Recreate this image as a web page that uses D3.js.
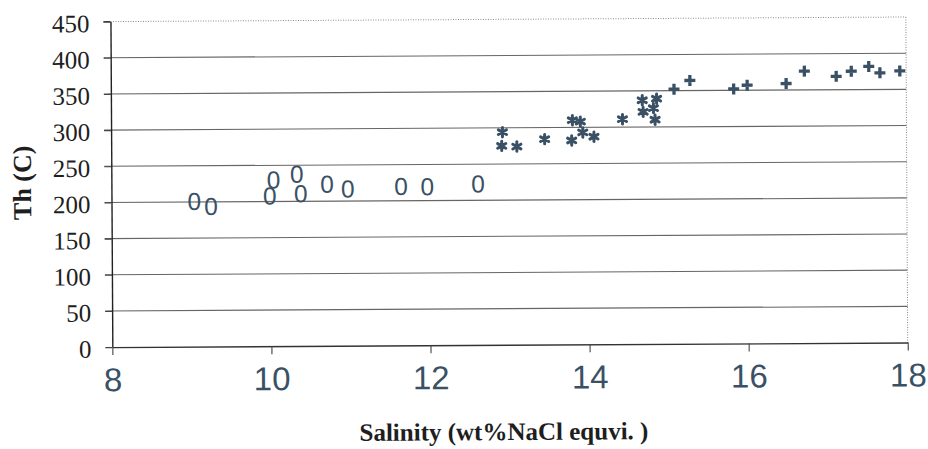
<!DOCTYPE html>
<html>
<head>
<meta charset="utf-8">
<script src="https://cdn.jsdelivr.net/npm/d3@7"></script>
<style>
  html, body { margin: 0; padding: 0; background: #fff; }
  svg { display: block; }
</style>
</head>
<body>
<svg id="chart" width="928" height="449"></svg>
<script>
// ---- data ----
const zeroX = [9.04, 9.25, 9.99, 10.04, 10.33, 10.38, 10.71, 10.97, 11.64, 11.97, 12.61];
const zeroY = [201, 194, 208, 230, 238, 211, 224, 217, 220, 219.5, 223];
const starX = [12.92, 12.91, 13.10, 13.45, 13.79, 13.80, 13.90, 13.93, 14.07, 14.43, 14.68, 14.69, 14.86, 14.82, 14.84];
const starY = [294, 275, 274, 284, 282, 310, 308, 293, 287, 311, 337, 321, 339, 326, 310];
const plusX = [15.08, 15.28, 15.83, 16.00, 16.49, 16.72, 17.12, 17.31, 17.53, 17.67, 17.92];
const plusY = [352, 364, 352, 357, 359, 376, 368.5, 375.5, 382, 373, 375.5];
const xTicks = [8, 10, 12, 14, 16, 18];
const yTicks = [0, 50, 100, 150, 200, 250, 300, 350, 400, 450];
const xTitle = "Salinity (wt%NaCl equvi. )";
const yTitle = "Th (C)";

// ---- layout ----
const markColor = "#3a5165";
const svg = d3.select("#chart");
svg.append("rect").attr("width", 928).attr("height", 449).attr("fill", "#fff");

const x = d3.scaleLinear().domain([8, 18]).range([111.4, 906.8]);
const y = d3.scaleLinear().domain([0, 450]).range([344.8, 19.3]);

// slight scan tilt of the original figure
const g = svg.append("g").attr("transform", "rotate(-0.33,509,184)");

// gridlines (with left tick stubs)
g.append("g").selectAll("line")
  .data(yTicks.filter(d => d > 0 && d < 450))
  .join("line")
  .attr("x1", x(8) - 7).attr("x2", x(18))
  .attr("y1", d => y(d)).attr("y2", d => y(d))
  .attr("stroke", "#666").attr("stroke-width", 1.1);

// top and right dotted borders
g.append("line")
  .attr("x1", x(8)).attr("x2", x(18)).attr("y1", y(450)).attr("y2", y(450))
  .attr("stroke", "#8a8a8a").attr("stroke-width", 1).attr("stroke-dasharray", "1,1.5");
g.append("line")
  .attr("x1", x(18)).attr("x2", x(18)).attr("y1", y(450)).attr("y2", y(0))
  .attr("stroke", "#8a8a8a").attr("stroke-width", 1).attr("stroke-dasharray", "1,1.5");
// tick stub for 450
g.append("line")
  .attr("x1", x(8) - 7).attr("x2", x(8)).attr("y1", y(450)).attr("y2", y(450))
  .attr("stroke", "#444").attr("stroke-width", 1.1);

// y axis (left)
const yAxis = d3.axisLeft(y).tickValues(yTicks).tickSize(7).tickSizeOuter(0).tickFormat(d3.format("d"));
const yg = g.append("g").attr("transform", `translate(${x(8)},0)`).call(yAxis);
yg.select(".domain").attr("stroke", "#222").attr("stroke-width", 1.4);
yg.selectAll(".tick line").attr("stroke", "#444").attr("stroke-width", 1.1);
yg.selectAll(".tick text")
  .attr("x", -21).attr("dy", "0.4em")
  .attr("font-family", "'Liberation Serif', 'Times New Roman', serif")
  .attr("font-size", 25).attr("fill", "#1e1e1e");

// x axis (bottom)
const xAxis = d3.axisBottom(x).tickValues(xTicks).tickSize(8).tickSizeOuter(0).tickFormat(d3.format("d"));
const xg = g.append("g").attr("transform", `translate(0,${y(0)})`).call(xAxis);
xg.select(".domain").attr("stroke", "#333").attr("stroke-width", 1.4);
xg.selectAll(".tick line").attr("stroke", "#444").attr("stroke-width", 1.1);
xg.selectAll(".tick text")
  .attr("y", 44).attr("dy", 0)
  .attr("font-family", "'Liberation Sans', Arial, sans-serif")
  .attr("font-size", 33).attr("fill", markColor);

// axis titles
g.append("text")
  .attr("x", 502.5).attr("y", 440)
  .attr("text-anchor", "middle")
  .attr("font-family", "'Liberation Serif', 'Times New Roman', serif")
  .attr("font-weight", "bold").attr("font-size", 25).attr("fill", "#1e1e1e")
  .text(xTitle);
g.append("text")
  .attr("transform", "translate(31,180) rotate(-90)")
  .attr("text-anchor", "middle")
  .attr("font-family", "'Liberation Serif', 'Times New Roman', serif")
  .attr("font-weight", "bold").attr("font-size", 26).attr("fill", "#1e1e1e")
  .text(yTitle);

// series 1: "0" glyph markers
g.append("g").selectAll("text")
  .data(d3.zip(zeroX, zeroY))
  .join("text")
  .attr("x", d => x(d[0])).attr("y", d => y(d[1]) + 8.8)
  .attr("text-anchor", "middle")
  .attr("font-family", "'Liberation Sans', Arial, sans-serif")
  .attr("font-size", 24.5).attr("fill", markColor)
  .text("0");

// series 2: asterisks
const starPath = (() => {
  const p = d3.path(); const r = 4.7;
  [90, 30, 150].forEach(a => {
    const t = a * Math.PI / 180;
    p.moveTo(r * Math.cos(t), -r * Math.sin(t));
    p.lineTo(-r * Math.cos(t), r * Math.sin(t));
  });
  return p.toString();
})();
g.append("g").selectAll("path")
  .data(d3.zip(starX, starY))
  .join("path")
  .attr("transform", d => `translate(${x(d[0])},${y(d[1])})`)
  .attr("d", starPath)
  .attr("stroke", markColor).attr("stroke-width", 3).attr("fill", "none")
  .attr("stroke-linecap", "round");

// series 3: plus signs
const plusPath = (() => {
  const p = d3.path(); const r = 5.5;
  p.moveTo(-r, 0); p.lineTo(r, 0);
  p.moveTo(0, -r); p.lineTo(0, r);
  return p.toString();
})();
g.append("g").selectAll("path")
  .data(d3.zip(plusX, plusY))
  .join("path")
  .attr("transform", d => `translate(${x(d[0])},${y(d[1])})`)
  .attr("d", plusPath)
  .attr("stroke", markColor).attr("stroke-width", 3.3).attr("fill", "none");
</script>
</body>
</html>
